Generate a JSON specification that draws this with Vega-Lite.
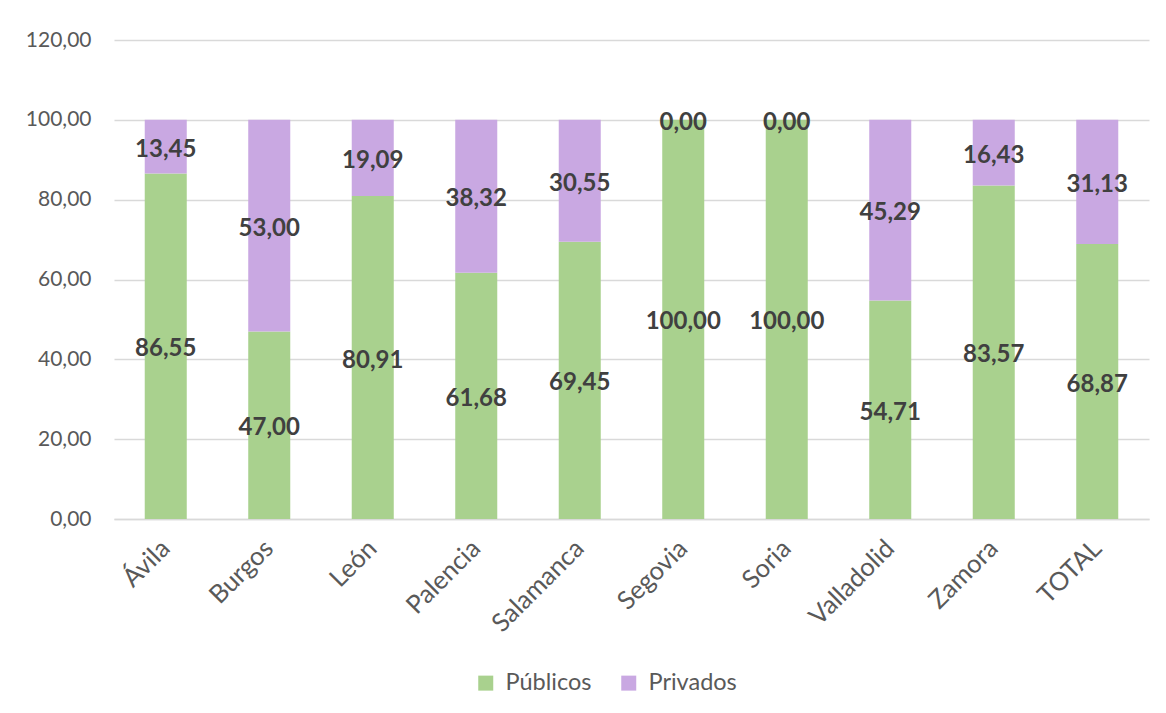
{
  "$schema": "https://vega.github.io/schema/vega-lite/v6.json",
  "autosize": {"type": "none"},
  "width": 1035,
  "height": 479,
  "padding": {"left": 114, "top": 40, "right": 17, "bottom": 194},
  "background": "white",
  "config": {
    "locale": {"number": {"decimal": ",", "thousands": ".", "grouping": [3], "currency": ["", " €"]}},
    "view": {"stroke": null},
    "font": "Lato"
  },
  "data": {
    "values": [
      {"provincia": "Ávila", "tipo": "Públicos", "orden": 1, "valor": 86.55},
      {"provincia": "Ávila", "tipo": "Privados", "orden": 2, "valor": 13.45},
      {"provincia": "Burgos", "tipo": "Públicos", "orden": 1, "valor": 47.00},
      {"provincia": "Burgos", "tipo": "Privados", "orden": 2, "valor": 53.00},
      {"provincia": "León", "tipo": "Públicos", "orden": 1, "valor": 80.91},
      {"provincia": "León", "tipo": "Privados", "orden": 2, "valor": 19.09},
      {"provincia": "Palencia", "tipo": "Públicos", "orden": 1, "valor": 61.68},
      {"provincia": "Palencia", "tipo": "Privados", "orden": 2, "valor": 38.32},
      {"provincia": "Salamanca", "tipo": "Públicos", "orden": 1, "valor": 69.45},
      {"provincia": "Salamanca", "tipo": "Privados", "orden": 2, "valor": 30.55},
      {"provincia": "Segovia", "tipo": "Públicos", "orden": 1, "valor": 100.00},
      {"provincia": "Segovia", "tipo": "Privados", "orden": 2, "valor": 0.00},
      {"provincia": "Soria", "tipo": "Públicos", "orden": 1, "valor": 100.00},
      {"provincia": "Soria", "tipo": "Privados", "orden": 2, "valor": 0.00},
      {"provincia": "Valladolid", "tipo": "Públicos", "orden": 1, "valor": 54.71},
      {"provincia": "Valladolid", "tipo": "Privados", "orden": 2, "valor": 45.29},
      {"provincia": "Zamora", "tipo": "Públicos", "orden": 1, "valor": 83.57},
      {"provincia": "Zamora", "tipo": "Privados", "orden": 2, "valor": 16.43},
      {"provincia": "TOTAL", "tipo": "Públicos", "orden": 1, "valor": 68.87},
      {"provincia": "TOTAL", "tipo": "Privados", "orden": 2, "valor": 31.13}
    ]
  },
  "transform": [
    {"stack": "valor", "groupby": ["provincia"], "sort": [{"field": "orden", "order": "ascending"}], "as": ["v0", "v1"]},
    {"calculate": "(datum.v0 + datum.v1) / 2", "as": "vmid"}
  ],
  "encoding": {
    "x": {
      "field": "provincia",
      "type": "nominal",
      "sort": null,
      "scale": {"paddingInner": 0.594, "paddingOuter": 0.297},
      "axis": {
        "title": null,
        "labelAngle": -45,
        "labelAlign": "right",
        "labelBaseline": "middle",
        "labelFontSize": 25.5,
        "labelColor": "#595959",
        "labelPadding": 25,
        "ticks": false,
        "domainColor": "#d9d9d9",
        "domainWidth": 1.5,
        "grid": false
      }
    }
  },
  "layer": [
    {
      "mark": {"type": "bar"},
      "encoding": {
        "y": {
          "field": "v0",
          "type": "quantitative",
          "scale": {"domain": [0, 120]},
          "axis": {
            "title": null,
            "values": [0, 20, 40, 60, 80, 100, 120],
            "format": ".2f",
            "labelFontSize": 21,
            "labelColor": "#595959",
            "labelPadding": 23,
            "ticks": false,
            "domain": false,
            "gridColor": "#d9d9d9",
            "gridWidth": 1.5
          }
        },
        "y2": {"field": "v1"},
        "color": {
          "field": "tipo",
          "type": "nominal",
          "scale": {"domain": ["Públicos", "Privados"], "range": ["#A9D18E", "#C9A8E2"]},
          "legend": {
            "title": null,
            "orient": "none",
            "direction": "horizontal",
            "legendX": 360,
            "legendY": 631,
            "symbolType": "square",
            "symbolSize": 225,
            "symbolStrokeWidth": 0,
            "labelFontSize": 23.5,
            "labelColor": "#595959",
            "labelOffset": 8,
            "columnPadding": 25
          }
        }
      }
    },
    {
      "mark": {"type": "text", "fontSize": 24, "fontWeight": "bold", "color": "#404040", "baseline": "middle", "dy": 3},
      "encoding": {
        "y": {"field": "vmid", "type": "quantitative"},
        "text": {"field": "valor", "type": "quantitative", "format": ".2f"}
      }
    }
  ]
}
